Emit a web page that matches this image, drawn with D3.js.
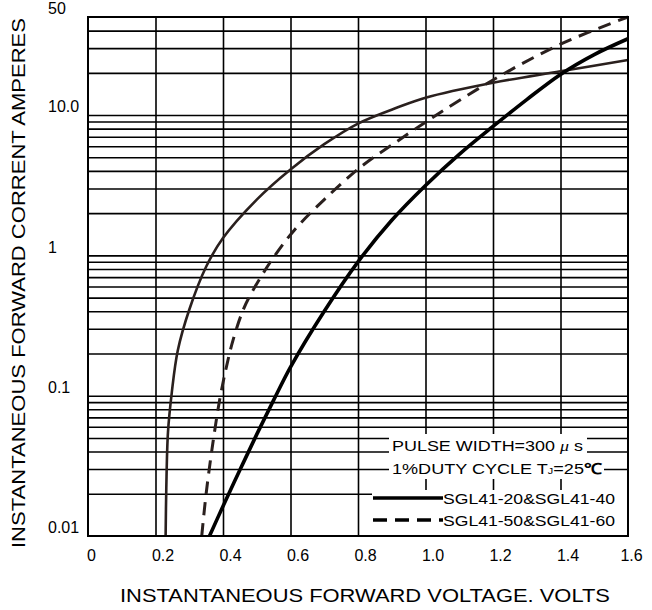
<!DOCTYPE html>
<html>
<head>
<meta charset="utf-8">
<script src="https://cdn.jsdelivr.net/npm/d3@7"></script>
<style>
  body { margin: 0; background: #fff; }
  text { font-family: "Liberation Sans", Arial, sans-serif; }
</style>
</head>
<body>
<div id="chart"></div>
<script>
// data
var voltTicks = [0, 0.2, 0.4, 0.6, 0.8, 1.0, 1.2, 1.4, 1.6];
var voltLabels = ["0", "0.2", "0.4", "0.6", "0.8", "1.0", "1.2", "1.4", "1.6"];
var ampTicks = [0.01, 0.1, 1, 10, 50];
var ampLabels = ["0.01", "0.1", "1", "10.0", "50"];
var ampGrid = [0.02,0.03,0.04,0.05,0.06,0.07,0.08,0.09,
               0.1,0.2,0.3,0.4,0.5,0.6,0.7,0.8,0.9,
               1,2,3,4,5,6,7,8,9,
               10,20,30,40];

// SGL41-20 & SGL41-40 (left, thin)
var voltsA = [0.23, 0.232, 0.237, 0.248, 0.266, 0.30, 0.35, 0.40, 0.50, 0.60, 0.70, 0.80, 0.92, 1.00, 1.20, 1.40, 1.60];
var ampsA  = [0.01, 0.022, 0.055, 0.104, 0.21, 0.41, 0.83, 1.33, 2.5, 4.1, 6.2, 8.7, 11.4, 13.3, 17.0, 20.5, 24.7];
// SGL41-50 & SGL41-60 (dashed)
var voltsB = [0.337, 0.35, 0.37, 0.39, 0.41, 0.43, 0.46, 0.49, 0.55, 0.61, 0.70, 0.81, 0.92, 1.00, 1.20, 1.40, 1.60];
var ampsB  = [0.01, 0.02, 0.046, 0.093, 0.16, 0.25, 0.41, 0.57, 0.97, 1.5, 2.5, 4.3, 6.6, 8.9, 17.8, 32.0, 50];
// right, thick solid
var voltsC = [0.36, 0.40, 0.45, 0.50, 0.55, 0.60, 0.70, 0.80, 0.90, 1.00, 1.10, 1.20, 1.30, 1.40, 1.50, 1.60];
var ampsC  = [0.01, 0.0163, 0.0295, 0.053, 0.093, 0.16, 0.40, 0.9, 1.78, 3.15, 5.25, 8.3, 12.9, 19.5, 27, 35];

var margin = {top: 17, right: 24, bottom: 74, left: 88},
    width = 652 - margin.left - margin.right,
    height = 610 - margin.top - margin.bottom;

var svg = d3.select("#chart")
  .append("svg")
    .attr("width", 652)
    .attr("height", 610)
  .append("g")
    .attr("transform", "translate(" + margin.left + "," + margin.top + ")");

var x = d3.scaleLinear().domain([0, 1.6]).range([0, width]);
var y = d3.scaleLog().domain([0.01, 50]).range([height, 0]);

// horizontal grid
svg.append("g")
  .call(d3.axisLeft(y).tickValues(ampGrid).tickSize(-width).tickFormat(""))
  .call(function(g) { g.select(".domain").remove(); })
  .selectAll("line").attr("stroke", "#000").attr("stroke-width", 1.6);

// vertical grid
svg.append("g")
  .attr("transform", "translate(0," + height + ")")
  .call(d3.axisBottom(x).tickValues(voltTicks.slice(1, -1)).tickSize(-height).tickFormat(""))
  .call(function(g) { g.select(".domain").remove(); })
  .selectAll("line").attr("stroke", "#000").attr("stroke-width", 1.6);

// curves
var lineOf = function(vs, as) {
  return d3.line().curve(d3.curveCatmullRom.alpha(0.5))(vs.map(function(v, i) { return [x(v), y(as[i])]; }));
};
svg.append("path").attr("d", lineOf(voltsA, ampsA))
  .attr("fill", "none").attr("stroke", "#2a201e").attr("stroke-width", 2.6);
svg.append("path").attr("d", lineOf(voltsB, ampsB))
  .attr("fill", "none").attr("stroke", "#2a201e").attr("stroke-width", 3).attr("stroke-dasharray", "13,8");
svg.append("path").attr("d", lineOf(voltsC, ampsC))
  .attr("fill", "none").attr("stroke", "#000").attr("stroke-width", 3.6);

// legend (knocked out of the grid)
var lg = svg.append("g").attr("transform", "translate(" + (372 - margin.left) + ",0)");
lg.append("rect").attr("x", 0).attr("y", 473).attr("width", width - (372 - margin.left)).attr("height", height - 473).attr("fill", "#fff");
lg.append("rect").attr("x", 17).attr("y", 417).attr("width", 198).attr("height", 22).attr("fill", "#fff");
lg.append("rect").attr("x", 17).attr("y", 439).attr("width", 215).attr("height", 23).attr("fill", "#fff");

var t1 = lg.append("text").attr("x", 20).attr("y", 434).attr("font-size", 15)
  .attr("textLength", 191).attr("lengthAdjust", "spacingAndGlyphs");
t1.append("tspan").text("PULSE WIDTH=300 ");
t1.append("tspan").attr("font-family", "'Liberation Serif', serif").attr("font-style", "italic").text("\u03bc");
t1.append("tspan").text(" s");

var t2 = lg.append("text").attr("x", 20).attr("y", 457).attr("font-size", 15)
  .attr("textLength", 210).attr("lengthAdjust", "spacingAndGlyphs");
t2.append("tspan").text("1%DUTY CYCLE  T");
t2.append("tspan").attr("font-size", 9).text("J");
t2.append("tspan").text("=25");
t2.append("tspan").attr("font-weight", "bold").text("\u2103");

lg.append("line").attr("x1", 1).attr("x2", 71).attr("y1", 481).attr("y2", 481)
  .attr("stroke", "#000").attr("stroke-width", 3.6);
lg.append("line").attr("x1", 1).attr("x2", 71).attr("y1", 503).attr("y2", 503)
  .attr("stroke", "#000").attr("stroke-width", 3.6).attr("stroke-dasharray", "14,8");
lg.append("text").attr("x", 71).attr("y", 486.5).attr("font-size", 15)
  .attr("textLength", 172).attr("lengthAdjust", "spacingAndGlyphs").text("SGL41-20&SGL41-40");
lg.append("text").attr("x", 71).attr("y", 508.5).attr("font-size", 15)
  .attr("textLength", 172).attr("lengthAdjust", "spacingAndGlyphs").text("SGL41-50&SGL41-60");

// frame
svg.append("rect").attr("width", width).attr("height", height)
  .attr("fill", "none").attr("stroke", "#000").attr("stroke-width", 2);

// x tick labels
svg.append("g")
  .attr("transform", "translate(0," + height + ")")
  .call(d3.axisBottom(x).tickValues(voltTicks).tickSize(0).tickPadding(14)
    .tickFormat(function(d, i) { return voltLabels[i]; }))
  .call(function(g) { g.select(".domain").remove(); })
  .selectAll("text")
    .attr("font-size", 16).attr("fill", "#000")
    .attr("font-family", "'DejaVu Sans Condensed', 'Liberation Sans', sans-serif")
    .attr("dx", function(d, i) { return (i == 0 || i == voltTicks.length - 1) ? 3 : 7; });

// y tick labels
svg.append("g")
  .call(d3.axisLeft(y).tickValues(ampTicks).tickSize(0).tickPadding(40)
    .tickFormat(function(d, i) { return ampLabels[i]; }))
  .call(function(g) { g.select(".domain").remove(); })
  .selectAll("text")
    .attr("font-size", 16).attr("fill", "#000").attr("text-anchor", "start")
    .attr("font-family", "'DejaVu Sans Condensed', 'Liberation Sans', sans-serif")
    .attr("dy", "-0.2em");

// axis titles
svg.append("text")
  .attr("x", 365 - margin.left).attr("y", 602 - margin.top)
  .attr("text-anchor", "middle").attr("font-size", 18)
  .attr("textLength", 490).attr("lengthAdjust", "spacingAndGlyphs")
  .text("INSTANTANEOUS FORWARD VOLTAGE. VOLTS");

svg.append("text")
  .attr("transform", "translate(" + (25 - margin.left) + "," + (283 - margin.top) + ") rotate(-90)")
  .attr("text-anchor", "middle").attr("font-size", 18)
  .attr("textLength", 530).attr("lengthAdjust", "spacingAndGlyphs")
  .text("INSTANTANEOUS FORWARD CORRENT AMPERES");
</script>
</body>
</html>
